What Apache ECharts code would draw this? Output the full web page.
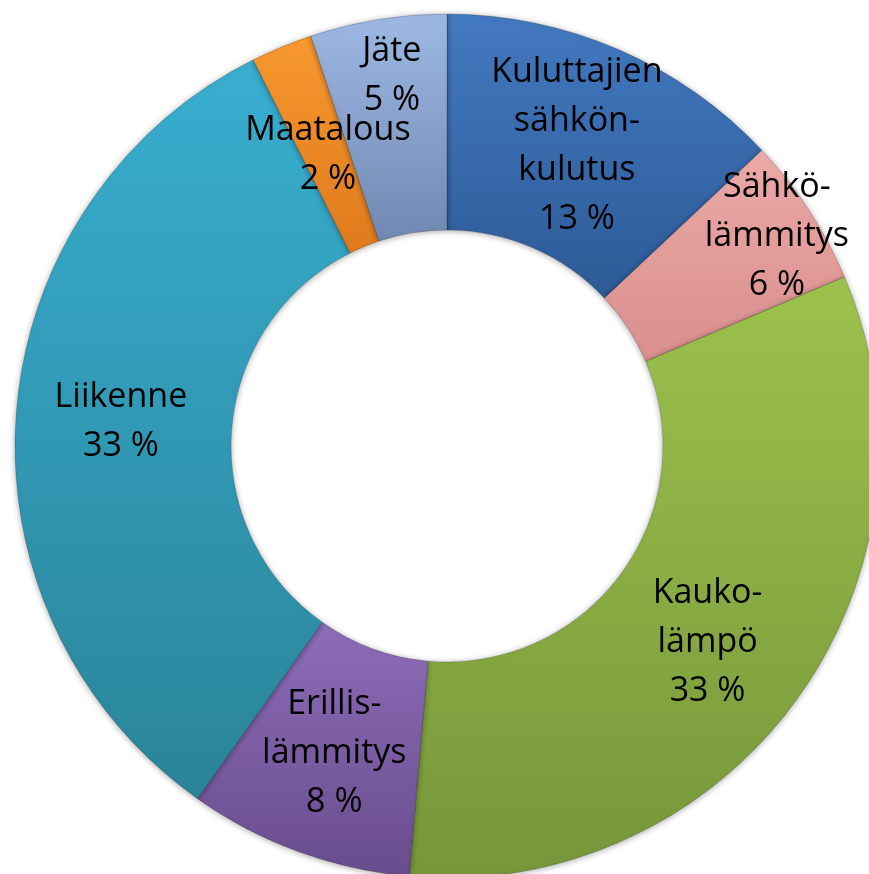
<!DOCTYPE html>
<html>
<head>
<meta charset="utf-8">
<script src="https://cdn.jsdelivr.net/npm/echarts@6/dist/echarts.min.js"></script>
<style>
    html, body { margin: 0; padding: 0; background: #fff; }
    #main { width: 869px; height: 874px; }
</style>
</head>
<body>
<div id="main"></div>
<script>
const categories = [
    'Kuluttajien\nsähkön-\nkulutus',
    'Sähkö-\nlämmitys',
    'Kauko-\nlämpö',
    'Erillis-\nlämmitys',
    'Liikenne',
    'Maatalous',
    'Jäte'
];
const values = [13.0, 5.6, 32.8, 8.4, 32.8, 2.3, 5.1];

// office-like gradient, light at top -> dark at bottom
const colorTop = ['#4379c0', '#eba9a7', '#9dc24d', '#8d6db8', '#38aed0', '#f8982f', '#9db8e4'];
const colorBottom = ['#2c5a96', '#d98f8d', '#76963a', '#694c8d', '#2a8499', '#df7a1c', '#7089b2'];

// nudges for labels that office placed off the ring middle
const labelNudge = {
    1: { dx: 56, dy: -31 },
    2: { dx: -4, dy: 4 },
    5: { dx: 6, dy: 11 },
    6: { dx: -3, dy: -47 }
};

class EmissionDonutChart {
    constructor(domId) {
        this.domId = domId;
    }
    build() {
        let chart = echarts.init(document.getElementById(this.domId));
        chart.setOption(this.setOption(), true);
    }
    setOption() {
        let option = { animation: false, backgroundColor: '#ffffff' };
        this.setSeries(option);
        return option;
    }
    buildData() {
        return categories.map(function (name, i) {
            return {
                name: name,
                value: values[i],
                itemStyle: {
                    color: new echarts.graphic.LinearGradient(0, 0, 0, 1, [
                        { offset: 0, color: colorTop[i] },
                        { offset: 1, color: colorBottom[i] }
                    ])
                }
            };
        });
    }
    setSeries(option) {
        option.series = [
            {
                type: 'pie',
                center: [447, 446],
                radius: [216, 432],
                startAngle: 90,
                clockwise: true,
                avoidLabelOverlap: false,
                data: this.buildData(),
                itemStyle: {
                    borderColor: 'rgba(0,0,0,0.18)',
                    borderWidth: 1,
                    shadowBlur: 6,
                    shadowColor: 'rgba(0,0,0,0.35)',
                    shadowOffsetY: 1
                },
                label: {
                    show: true,
                    position: 'inside',
                    formatter: function (p) {
                        return p.name + '\n' + Math.round(p.percent) + ' %';
                    },
                    color: '#000',
                    fontFamily: 'Open Sans',
                    fontSize: 34,
                    lineHeight: 49,
                    align: 'center',
                    textBorderWidth: 0
                },
                labelLine: { show: false },
                labelLayout: function (params) {
                    return labelNudge[params.dataIndex] || {};
                },
                emphasis: { disabled: true }
            }
        ];
    }
}

new EmissionDonutChart('main').build();
</script>
</body>
</html>
